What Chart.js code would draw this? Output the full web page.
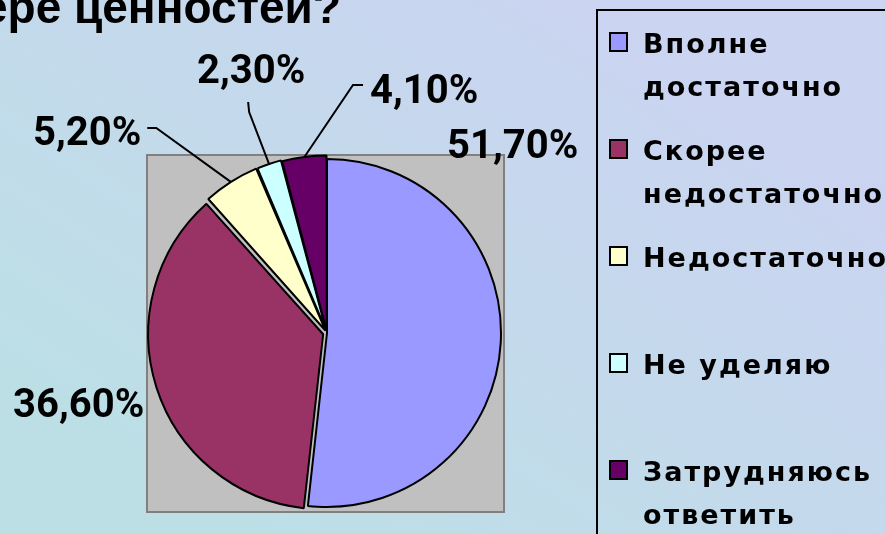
<!DOCTYPE html>
<html><head><meta charset="utf-8">
<script src="https://cdn.jsdelivr.net/npm/chart.js@4/dist/chart.umd.min.js"></script>
<style>html,body{margin:0;padding:0;overflow:hidden;background:#c4d9ec}#wrap{position:relative;width:885px;height:534px}canvas{display:block}</style>
</head><body><div id="wrap"><canvas id="c" width="885" height="534"></canvas></div>
<script>
// ---- data ----
const categories = [["Вполне","достаточно"],["Скорее","недостаточно"],["Недостаточно"],["Не уделяю"],["Затрудняюсь","ответить"]];
const values = [51.7, 36.6, 5.2, 2.3, 4.1];
const colors = ["#9999FF","#993366","#FFFFCC","#CCFFFF","#660066"];
const titleText = "в сфере ценностей?";

// ---- layout / style (not data) ----
const explode = [0, 16, 12, 10, 8];
const pieRadius = 174;
const labelFont = 'bold 40px Roboto, "Liberation Sans", sans-serif';
const labelPos = [ {x:447,y:158}, {x:13,y:417}, {x:33,y:145}, {x:197,y:83}, {x:370,y:103} ];
const legendFont = 'bold 27px "DejaVu Sans", Verdana, sans-serif';

const fmt = v => v.toFixed(2).replace('.', ',') + '%';

const bgPlugin = {
  id: 'bg',
  beforeDraw(chart) {
    const ctx = chart.ctx, W = chart.width, H = chart.height;
    ctx.save();
    const g = ctx.createLinearGradient(W*0.7, 0, W*0.3, H);
    g.addColorStop(0, '#cbd4f1');
    g.addColorStop(1, '#bcdfe6');
    ctx.fillStyle = g;
    ctx.fillRect(0, 0, W, H);
    // plot area square around pie
    const arc = chart.getDatasetMeta(0).data[0];
    if (arc) {
      const l = arc.x - pieRadius - 6, t = arc.y - pieRadius - 4;
      const s = 2 * pieRadius + 9;
      ctx.fillStyle = '#c0c0c0';
      ctx.fillRect(l, t, s, s);
      ctx.strokeStyle = '#808080';
      ctx.lineWidth = 2;
      ctx.strokeRect(l, t, s, s);
    }
    // title (cropped at top)
    ctx.font = 'bold 46px "Liberation Sans", Arial, sans-serif';
    ctx.fillStyle = '#000';
    ctx.textBaseline = 'alphabetic';
    const pre = ctx.measureText('в сфере ').width;
    ctx.fillText(titleText, 74 - pre, 23);
    ctx.restore();
  }
};

const labelPlugin = {
  id: 'labels',
  afterDatasetsDraw(chart) {
    const ctx = chart.ctx;
    const meta = chart.getDatasetMeta(0);
    ctx.save();
    ctx.font = labelFont;
    ctx.fillStyle = '#000';
    ctx.textBaseline = 'alphabetic';
    ctx.strokeStyle = '#000';
    ctx.lineWidth = 2;
    meta.data.forEach((arc, i) => {
      const txt = fmt(values[i]);
      const p = labelPos[i];
      const w = ctx.measureText(txt).width;
      ctx.fillText(txt, p.x, p.y);
      const mid = (arc.startAngle + arc.endAngle) / 2;
      const off = explode[i] / 4;
      const ex = arc.x + Math.cos(mid) * (arc.outerRadius + off * 1.6);
      const ey = arc.y + Math.sin(mid) * (arc.outerRadius + off * 1.6);
      let pts = null;
      if (i === 2) pts = [[p.x + w + 6, p.y - 17], [p.x + w + 15, p.y - 17]];
      if (i === 3) pts = [[p.x + w/2 - 3, p.y + 19], [p.x + w/2 - 2, p.y + 29]];
      if (i === 4) pts = [[p.x - 7, p.y - 18], [p.x - 17, p.y - 18]];
      if (pts) {
        ctx.beginPath();
        ctx.moveTo(pts[0][0], pts[0][1]);
        ctx.lineTo(pts[1][0], pts[1][1]);
        ctx.lineTo(ex, ey);
        ctx.stroke();
      }
    });
    ctx.restore();
  }
};

const legendPlugin = {
  id: 'customLegend',
  afterDraw(chart) {
    const ctx = chart.ctx;
    ctx.save();
    ctx.strokeStyle = '#000';
    ctx.lineWidth = 2;
    ctx.strokeRect(597, 10, 400, 600);
    ctx.font = legendFont;
    try { ctx.letterSpacing = '2px'; } catch(e) {}
    ctx.fillStyle = '#000';
    ctx.textBaseline = 'alphabetic';
    categories.forEach((lines, i) => {
      const base = 53 + i * 107;
      ctx.fillStyle = colors[i];
      ctx.fillRect(610, base - 20, 17, 18);
      ctx.strokeStyle = '#000';
      ctx.lineWidth = 2;
      ctx.strokeRect(610, base - 20, 17, 18);
      ctx.fillStyle = '#000';
      lines.forEach((ln, j) => ctx.fillText(ln, 643, base + j * 43));
    });
    ctx.restore();
  }
};

new Chart(document.getElementById('c'), {
  type: 'pie',
  data: {
    labels: categories.map(c => c.join(' ')),
    datasets: [{
      data: values,
      backgroundColor: colors,
      borderColor: '#000',
      borderWidth: 2,
      offset: explode,
      radius: pieRadius
    }]
  },
  options: {
    responsive: false,
    animation: false,
    events: [],
    rotation: 0,
    layout: { padding: { left: 100, right: 331, top: 150, bottom: 18 } },
    plugins: { legend: { display: false }, tooltip: { enabled: false }, title: { display: false } }
  },
  plugins: [bgPlugin, labelPlugin, legendPlugin]
});
</script>
</body></html>
